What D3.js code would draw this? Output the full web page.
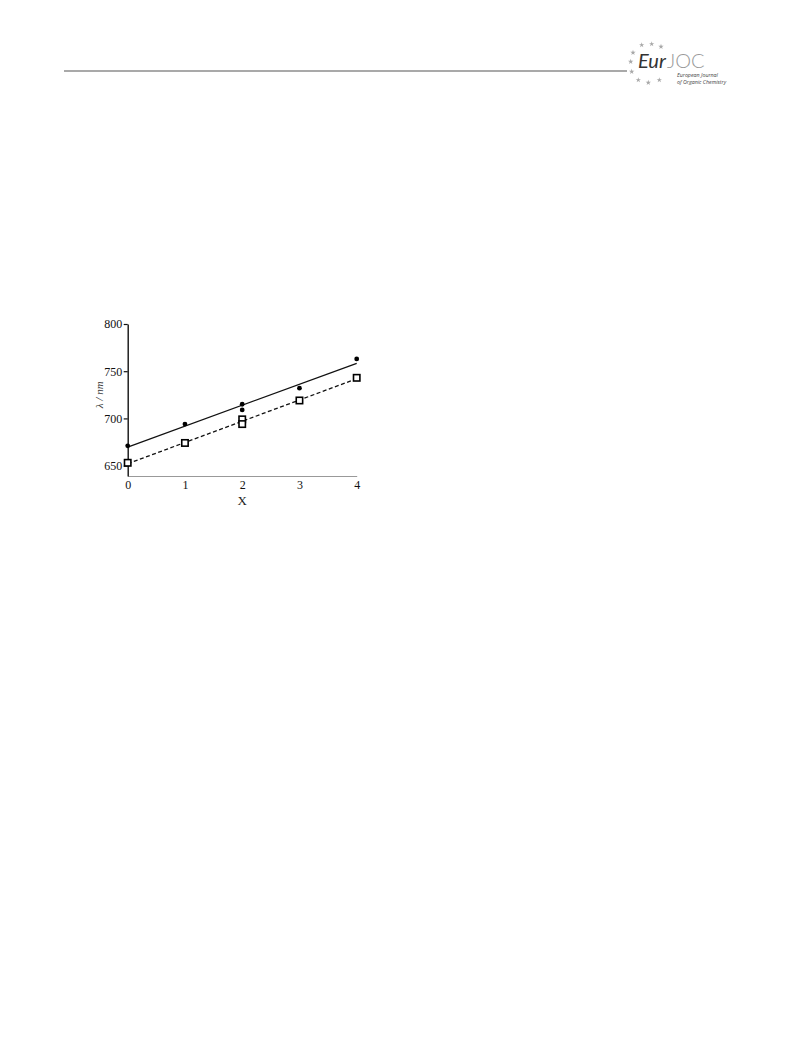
<!DOCTYPE html>
<html><head><meta charset="utf-8">
<script src="https://cdn.jsdelivr.net/npm/d3@7"></script>
<style>body{margin:0;background:#fff;} svg{display:block;}</style>
</head><body>
<svg id="c" width="793" height="1059"></svg>
<script>
// Data
const xTicks = [0, 1, 2, 3, 4];
const yTicks = [650, 700, 750, 800];
const seriesA_x = [0, 1, 2, 2, 3, 4];          // filled circles
const seriesA_y = [671, 694, 715, 709, 732, 763];
const seriesB_x = [0, 1, 2, 2, 3, 4];          // open squares
const seriesB_y = [653, 674, 699, 694, 719, 743];
const fitA = [[0, 669.6], [4, 758.4]];          // solid fit line
const fitB = [[0, 652], [4, 742]];              // dashed fit line
const xLabel = "X";
const yLabel = "λ / nm";

const svg = d3.select("#c");

// header rule + logo
svg.append("line").attr("x1", 64).attr("x2", 627).attr("y1", 71).attr("y2", 71)
  .attr("stroke", "#8c8c8c").attr("stroke-width", 1.6);
const stars = [[641.7,45],[651.7,44],[661,46.7],[633,52.7],[630.7,61.7],[631.7,71.7],[638.3,80],[648.3,82.7],[659.3,80]];
const starSym = d3.symbol().type(d3.symbolStar).size(9);
svg.selectAll(".st").data(stars).join("path").attr("d", starSym)
  .attr("transform", d => `translate(${d[0]},${d[1]})`).attr("fill", "#a8a8a8");
svg.append("text").attr("x", 638).attr("y", 68).attr("font-family", "Lato, 'Open Sans', sans-serif")
  .attr("font-style", "italic").attr("font-size", 20).attr("fill", "#333").text("Eur");
svg.append("text").attr("x", 667).attr("y", 68).attr("font-family", "Lato, 'Open Sans', sans-serif")
  .attr("font-weight", 300).attr("font-size", 20).attr("fill", "#9a9a9a").text("JOC");
svg.append("text").attr("x", 677).attr("y", 77).attr("font-family", "'Open Sans', sans-serif")
  .attr("font-style", "italic").attr("font-size", 5.3).attr("fill", "#444").text("European Journal");
svg.append("text").attr("x", 677).attr("y", 84).attr("font-family", "'Open Sans', sans-serif")
  .attr("font-style", "italic").attr("font-size", 5.3).attr("fill", "#444").text("of Organic Chemistry");

// chart
const x = d3.scaleLinear().domain([0, 4]).range([127.7, 356.7]);
const y = d3.scaleLinear().domain([639, 800]).range([476, 324]);
const serif = "'Liberation Serif', 'DejaVu Serif', serif";

// x axis (gray line, labels only)
const xAxis = svg.append("g").attr("transform", `translate(0,${y(639)})`)
  .call(d3.axisBottom(x).tickValues(xTicks).tickSize(0).tickPadding(4).tickFormat(d3.format("d")));
xAxis.select(".domain").attr("stroke", "#999").attr("stroke-width", 1.2);
xAxis.selectAll("text").attr("font-family", serif).attr("font-size", 12).attr("fill", "#111");

// y axis
const yAxis = svg.append("g").attr("transform", `translate(${x(0)},0)`)
  .call(d3.axisLeft(y).tickValues(yTicks).tickSize(4).tickSizeOuter(0).tickPadding(1.5));
yAxis.select(".domain").attr("stroke", "#111").attr("stroke-width", 1.4);
yAxis.selectAll(".tick line").attr("stroke", "#111").attr("stroke-width", 1.2);
yAxis.selectAll("text").attr("font-family", serif).attr("font-size", 12).attr("fill", "#111");

// labels
svg.append("text").attr("x", x(2)).attr("y", 505).attr("text-anchor", "middle")
  .attr("font-family", serif).attr("font-size", 13).attr("fill", "#222").text(xLabel);
svg.append("text").attr("transform", `translate(103,${y(725)}) rotate(-90)`).attr("text-anchor", "middle")
  .attr("font-family", serif).attr("font-style", "italic").attr("font-size", 11).attr("fill", "#333").text(yLabel);

// fit lines
const line = d3.line().x(d => x(d[0])).y(d => y(d[1]));
svg.append("path").attr("d", line(fitA)).attr("fill", "none").attr("stroke", "#111").attr("stroke-width", 1.3);
svg.append("path").attr("d", line(fitB)).attr("fill", "none").attr("stroke", "#111").attr("stroke-width", 1.3)
  .attr("stroke-dasharray", "4,2.5");

// markers
svg.selectAll(".ca").data(seriesA_x.map((v, i) => [v, seriesA_y[i]])).join("circle")
  .attr("cx", d => x(d[0])).attr("cy", d => y(d[1])).attr("r", 2.4).attr("fill", "#000");
svg.selectAll(".sb").data(seriesB_x.map((v, i) => [v, seriesB_y[i]])).join("rect")
  .attr("x", d => x(d[0]) - 3.2).attr("y", d => y(d[1]) - 3.2).attr("width", 6.4).attr("height", 6.4)
  .attr("fill", "#fff").attr("stroke", "#000").attr("stroke-width", 1.6);
</script>
</body></html>
